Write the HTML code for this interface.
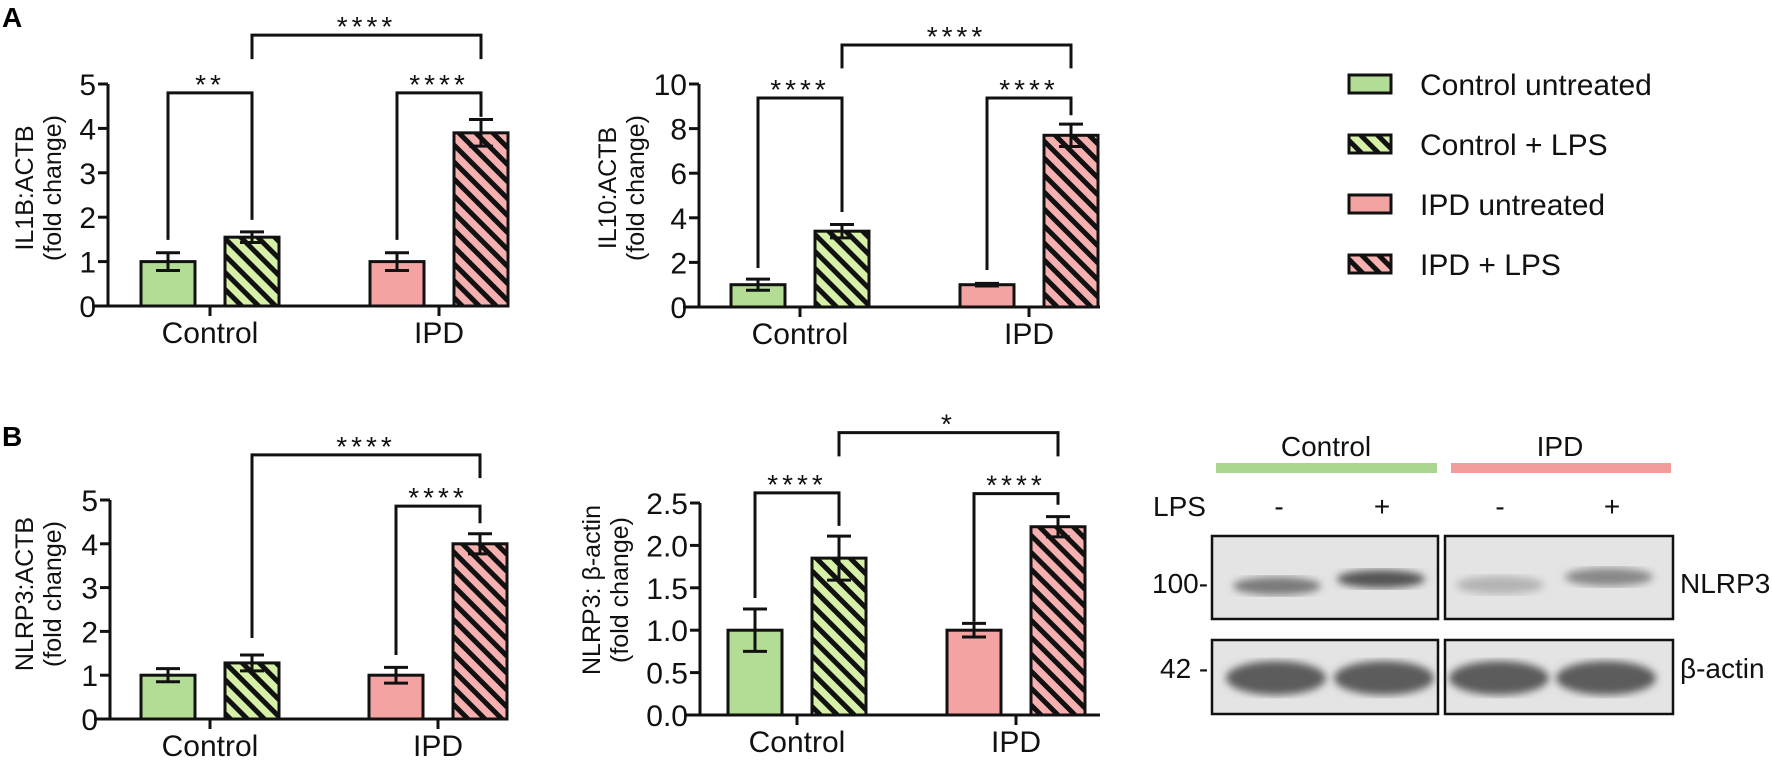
<!DOCTYPE html>
<html><head><meta charset="utf-8"><style>
html,body{margin:0;padding:0;background:#fff;width:1772px;height:764px;overflow:hidden}
svg{display:block;font-family:"Liberation Sans",sans-serif}
</style></head><body>
<svg id="fig" width="1772" height="764" viewBox="0 0 1772 764">
<defs>
<pattern id="hatchG" patternUnits="userSpaceOnUse" width="12" height="12" patternTransform="rotate(-45)">
<rect width="12" height="12" fill="#d6f0a8"/><rect width="5" height="12" fill="#111"/></pattern>
<pattern id="hatchP" patternUnits="userSpaceOnUse" width="12" height="12" patternTransform="rotate(-45)">
<rect width="12" height="12" fill="#f6b0b0"/><rect width="5" height="12" fill="#111"/></pattern>
<filter id="blur"><feGaussianBlur stdDeviation="4"/></filter>
</defs>
<text x="2" y="27" font-size="28" font-weight="bold">A</text>
<text x="2" y="446" font-size="28" font-weight="bold">B</text>
<g id="legend"></g>
<g id="blot"></g>
</svg>
<script>
const NS='http://www.w3.org/2000/svg';
const svg=document.getElementById('fig');
function mk(tag,attrs,parent){const e=document.createElementNS(NS,tag);for(const k in attrs)e.setAttribute(k,attrs[k]);(parent||svg).appendChild(e);return e;}

const groups=['Control','IPD'];
const fills=['#b3dc94','url(#hatchG)','#f4a3a3','url(#hatchP)'];

// Chart A1: IL1B
const il1bValues=[1.0,1.55,1.0,3.9];
const il1bErrors=[0.2,0.12,0.2,0.3];
const il1bTicks=[0,1,2,3,4,5];
const il1bBrackets=[[0,1,4.8,1.49,1.94,'**'],[2,3,4.8,1.49,4.26,'****'],[1,3,6.1,5.56,5.56,'****']];
// Chart A2: IL10
const il10Values=[1.0,3.4,1.0,7.7];
const il10Errors=[0.25,0.3,0.06,0.5];
const il10Ticks=[0,2,4,6,8,10];
const il10Brackets=[[0,1,9.37,1.75,4.26,'****'],[2,3,9.37,1.66,8.6,'****'],[1,3,11.75,10.7,10.7,'****']];
// Chart B1: NLRP3 qPCR
const nlrpValues=[1.0,1.28,1.0,4.0];
const nlrpErrors=[0.15,0.18,0.18,0.23];
const nlrpTicks=[0,1,2,3,4,5];
const nlrpBrackets=[[2,3,4.86,1.46,4.47,'****'],[1,3,6.03,1.85,5.5,'****']];
// Chart B2: NLRP3 protein
const protValues=[1.0,1.85,1.0,2.22];
const protErrors=[0.25,0.26,0.08,0.12];
const protTicks=['0.0','0.5','1.0','1.5','2.0','2.5'];
const protBrackets=[[0,1,2.62,1.38,2.23,'****'],[2,3,2.61,1.1,2.48,'****'],[1,3,3.33,3.05,3.05,'*']];

function chart(o){
  const g=mk('g',{});
  
  
  const y=v=>o.y0-(v/o.max)*(o.y0-o.yTop);
  const offs=[-42,42];
  const bx=i=>o.centers[Math.floor(i/2)]+offs[i%2];
  const bw=54;
  o.values.forEach((v,i)=>{
    const cx=bx(i);
    const r=mk('rect',{x:cx-bw/2,y:y(v),width:bw,height:o.y0-y(v),fill:fills[i],stroke:'#111','stroke-width':3},g);
    
    
    const e=o.errors[i];
    const eb=mk('path',{d:`M${cx} ${y(v-e)}V${y(v+e)}M${cx-12} ${y(v+e)}H${cx+12}M${cx-12} ${y(v-e)}H${cx+12}`,stroke:'#111','stroke-width':3,fill:'none'},g);
    
    
  });
  const ax=mk('path',{d:`M${o.ax} ${o.yTop}V${o.y0}M${o.ax-16} ${o.y0}H${o.xEnd}`,stroke:'#111','stroke-width':3,fill:'none'},g);
  
  
  o.ticks.forEach((t,i)=>{
    const v=parseFloat(t);const ty=y(v);
    mk('line',{x1:o.ax-10,x2:o.ax,y1:ty,y2:ty,stroke:'#111','stroke-width':3},g);
    const tl=mk('text',{x:o.ax-12,y:ty+11,'font-size':30,'text-anchor':'end',fill:'#111'},g);
    tl.textContent=t;
    
    
  });
  groups.forEach((gn,i)=>{
    const cx=o.centers[i];
    mk('line',{x1:cx,x2:cx,y1:o.y0,y2:o.y0+10,stroke:'#111','stroke-width':3},g);
    const t=mk('text',{x:cx,y:o.y0+37,'font-size':30,'text-anchor':'middle',fill:'#111'},g);
    t.textContent=gn;
    
    
  });
  const tt=mk('text',{transform:`translate(${o.titleX},${o.titleY}) rotate(-90)`,'font-size':25,'text-anchor':'middle',fill:'#111'},g);
  
  
  const s1=mk('tspan',{x:0,y:0},tt);s1.textContent=o.title;
  const s2=mk('tspan',{x:0,y:28},tt);s2.textContent='(fold change)';
  o.brackets.forEach(b=>{
    const x1=bx(b[0]),x2=bx(b[1]),by=y(b[2]);
    const p=mk('path',{d:`M${x1} ${y(b[3])}V${by}H${x2}V${y(b[4])}`,stroke:'#111','stroke-width':3,fill:'none'},g);
    
    
    const st=mk('text',{x:(x1+x2)/2,y:by+1,'font-size':28,'text-anchor':'middle','letter-spacing':4,fill:'#111'},g);
    st.textContent=b[5];
    
    
  });
}
chart({name:'il1b-chart',values:il1bValues,errors:il1bErrors,ticks:il1bTicks.map(String),brackets:il1bBrackets,max:5,ax:108,y0:306,yTop:84,xEnd:508,centers:[210,439],title:'IL1B:ACTB',titleX:33,titleY:188});
chart({name:'il10-chart',values:il10Values,errors:il10Errors,ticks:il10Ticks.map(String),brackets:il10Brackets,max:10,ax:699,y0:307,yTop:84,xEnd:1100,centers:[800,1029],title:'IL10:ACTB',titleX:616,titleY:188});
chart({name:'nlrp3-mrna-chart',values:nlrpValues,errors:nlrpErrors,ticks:nlrpTicks.map(String),brackets:nlrpBrackets,max:5,ax:110,y0:719,yTop:500,xEnd:508,centers:[210,438],title:'NLRP3:ACTB',titleX:33,titleY:594});
chart({name:'nlrp3-protein-chart',values:protValues,errors:protErrors,ticks:protTicks,brackets:protBrackets,max:2.5,ax:700,y0:715,yTop:503,xEnd:1100,centers:[797,1016],title:'NLRP3: β-actin',titleX:600,titleY:590});

const legendLabels=['Control untreated','Control + LPS','IPD untreated','IPD + LPS'];
const lg=document.getElementById('legend');
legendLabels.forEach((l,i)=>{
  const cy=84+i*60;
  const r=mk('rect',{x:1349,y:cy-9,width:42,height:18,fill:fills[i],stroke:'#111','stroke-width':3},lg);
  
  
  const t=mk('text',{x:1420,y:cy+11,'font-size':30,fill:'#111'},lg);
  t.textContent=l;
  
  
});

const bl=document.getElementById('blot');
function txt(s,a,name){const t=mk('text',Object.assign({'font-size':28,fill:'#111'},a),bl);t.textContent=s;return t;}
txt('Control',{x:1326,y:456,'text-anchor':'middle'},'blot-control-label');
txt('IPD',{x:1560,y:456,'text-anchor':'middle'},'blot-ipd-label');
mk('rect',{x:1216,y:463,width:221,height:10,fill:'#a9d68c'},bl);
mk('rect',{x:1451,y:463,width:220,height:10,fill:'#f29b9b'},bl);
txt('LPS',{x:1153,y:516},'lps-label');
['-','+','-','+'].forEach((s,i)=>txt(s,{x:[1279,1382,1500,1612][i],y:516,'text-anchor':'middle'},'lps-sign'));
[[1212,226],[1445,228]].forEach(b=>{
  mk('rect',{x:b[0],y:536,width:b[1],height:83,fill:'#e4e4e4',stroke:'#111','stroke-width':2.5},bl);
  mk('rect',{x:b[0],y:640,width:b[1],height:74,fill:'#e4e4e4',stroke:'#111','stroke-width':2.5},bl);
});
const bandsN=[[1277,586,'#7a7a7a'],[1381,579,'#555'],[1500,585,'#b4b4b4'],[1609,577,'#888']];
bandsN.forEach(b=>mk('ellipse',{cx:b[0],cy:b[1],rx:44,ry:9,fill:b[2],filter:'url(#blur)'},bl));
[1276,1384,1499,1606].forEach(x=>mk('ellipse',{cx:x,cy:678,rx:50,ry:17,fill:'#5c5c5c',filter:'url(#blur)'},bl));
txt('100-',{x:1152,y:593},'mw-100-label');
txt('42 -',{x:1160,y:678},'mw-42-label');
txt('NLRP3',{x:1680,y:593},'nlrp3-band-label');
txt('β-actin',{x:1680,y:678},'beta-actin-band-label');
</script>
</body></html>
